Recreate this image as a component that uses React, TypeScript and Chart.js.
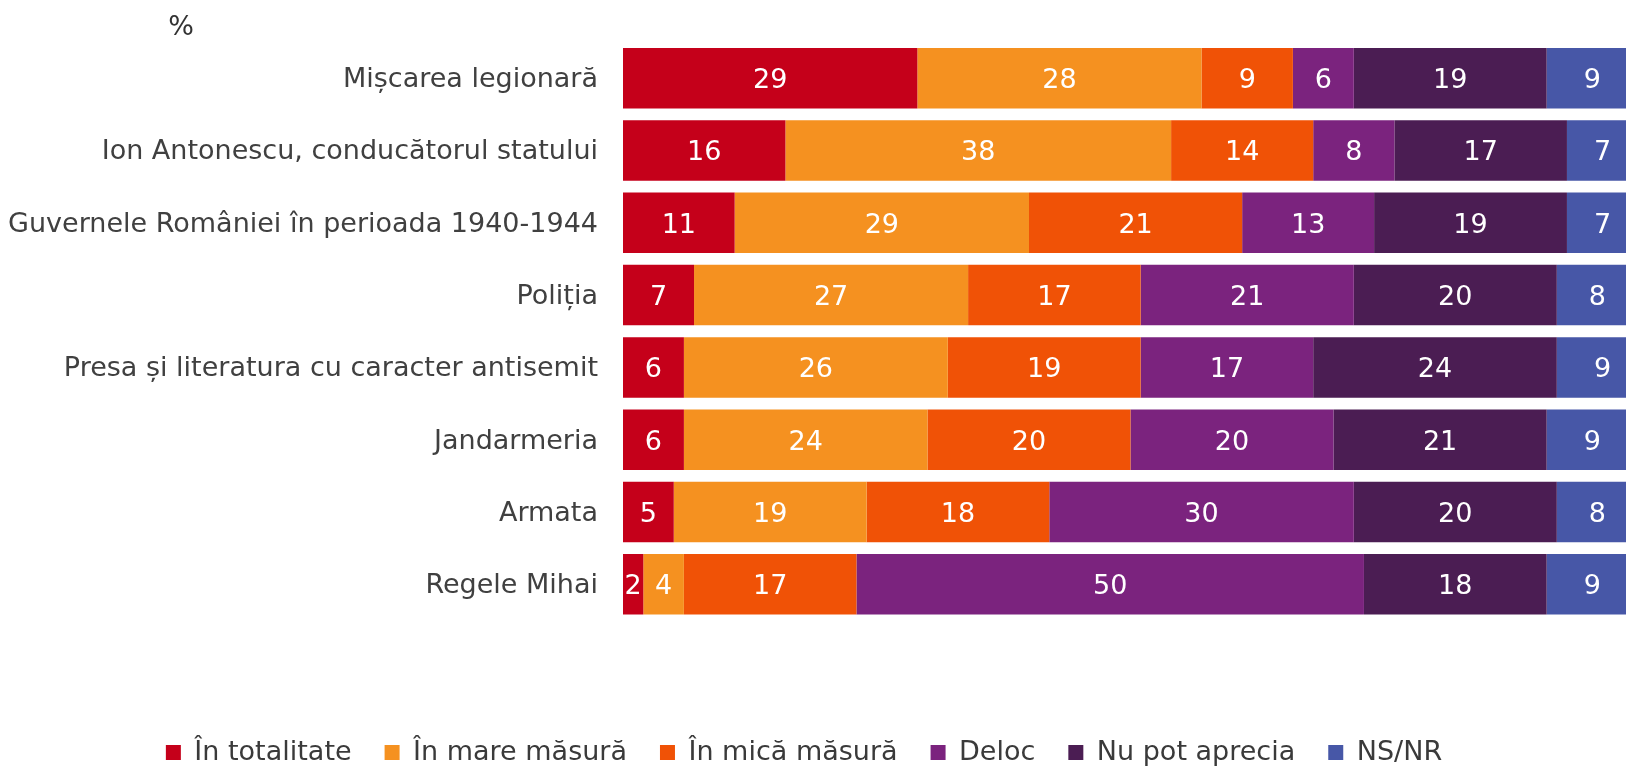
import { useEffect, useRef } from "react";
import { Chart, registerables } from "chart.js";

Chart.register(...registerables);

const categories = [
  "Mișcarea legionară",
  "Ion Antonescu, conducătorul statului",
  "Guvernele României în perioada 1940-1944",
  "Poliția",
  "Presa și literatura cu caracter antisemit",
  "Jandarmeria",
  "Armata",
  "Regele Mihai",
];

const seriesNames = [
  "În totalitate",
  "În mare măsură",
  "În mică măsură",
  "Deloc",
  "Nu pot aprecia",
  "NS/NR",
];

const inTotalitate = [29, 16, 11, 7, 6, 6, 5, 2];
const inMareMasura = [28, 38, 29, 27, 26, 24, 19, 4];
const inMicaMasura = [9, 14, 21, 17, 19, 20, 18, 17];
const deloc = [6, 8, 13, 21, 17, 20, 30, 50];
const nuPotAprecia = [19, 17, 19, 20, 24, 21, 20, 18];
const nsNr = [9, 7, 7, 8, 9, 9, 8, 9];

const seriesColors = ["#C5001A", "#F59120", "#F05206", "#7B237E", "#4B1D53", "#4757A7"];

const unitLabel = "%";
const FONT = '"DejaVu Sans", Verdana, sans-serif';
const SHIFT = 30;

const valueLabels = {
  id: "valueLabels",
  afterDatasetsDraw(chart: any) {
    const ctx = chart.ctx;
    ctx.save();
    ctx.font = `27px ${FONT}`;
    ctx.fillStyle = "#ffffff";
    ctx.textAlign = "center";
    ctx.textBaseline = "middle";
    chart.data.datasets.forEach((ds: any, i: number) => {
      const meta = chart.getDatasetMeta(i);
      meta.data.forEach((el: any, j: number) => {
        const p = el.getProps(["x", "y", "base"], true);
        ctx.fillText(String(ds.data[j]), (p.x + p.base) / 2, p.y + 3);
      });
    });
    ctx.restore();
  },
};

const unitTitle = {
  id: "unitTitle",
  afterDraw(chart: any) {
    const ctx = chart.ctx;
    ctx.save();
    ctx.font = `27px ${FONT}`;
    ctx.fillStyle = "#333333";
    ctx.textAlign = "center";
    ctx.textBaseline = "middle";
    ctx.fillText(unitLabel, 181 + SHIFT, 28);
    ctx.restore();
  },
};

export default function App() {
  const ref = useRef<HTMLCanvasElement | null>(null);

  useEffect(() => {
    if (!ref.current) return;
    const values = [inTotalitate, inMareMasura, inMicaMasura, deloc, nuPotAprecia, nsNr];
    const chart = new Chart(ref.current, {
      type: "bar",
      data: {
        labels: categories,
        datasets: seriesNames.map((name, i) => ({
          label: name,
          data: values[i],
          backgroundColor: seriesColors[i],
          borderWidth: 0,
          barPercentage: 0.837,
          categoryPercentage: 1,
        })),
      },
      options: {
        indexAxis: "y",
        responsive: false,
        animation: false,
        devicePixelRatio: 1,
        layout: { padding: { top: 42, left: 0, right: 0, bottom: 0 } },
        scales: {
          x: {
            stacked: true,
            min: 0,
            max: 100,
            display: true,
            grid: { display: false, drawTicks: false },
            border: { display: false },
            ticks: { display: false },
            afterFit: (axis: any) => {
              axis.height = 85.5;
            },
          },
          y: {
            stacked: true,
            grid: { display: false, drawTicks: false },
            border: { display: false },
            ticks: {
              autoSkip: false,
              padding: 25,
              labelOffset: 2,
              color: "#404040",
              font: { family: FONT, size: 27 },
            },
            afterFit: (axis: any) => {
              axis.width = 623 + SHIFT;
            },
          },
        },
        plugins: {
          legend: {
            position: "bottom",
            labels: {
              boxWidth: 15,
              boxHeight: 15,
              padding: 33,
              color: "#3a3a3a",
              font: { family: FONT, size: 27 },
            },
          },
          tooltip: { enabled: false },
        },
      },
      plugins: [valueLabels, unitTitle],
    });
    return () => chart.destroy();
  }, []);

  return (
    <div
      style={{
        position: "fixed",
        left: 0,
        top: 0,
        width: 1626,
        height: 768,
        overflow: "hidden",
        background: "#ffffff",
      }}
    >
      <canvas
        ref={ref}
        width={1668}
        height={776}
        style={{ display: "block", marginLeft: -SHIFT }}
      />
    </div>
  );
}
